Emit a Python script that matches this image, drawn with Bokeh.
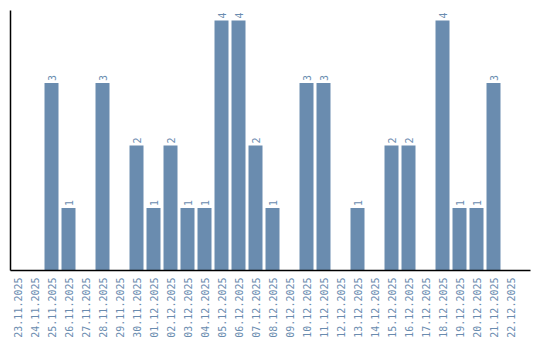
import math
from bokeh.plotting import figure
from bokeh.models import ColumnDataSource, Range1d, FixedTicker
from bokeh.core.properties import value
from bokeh.embed import file_html
from bokeh.resources import INLINE

dates = ["23.11.2025", "24.11.2025", "25.11.2025", "26.11.2025", "27.11.2025",
         "28.11.2025", "29.11.2025", "30.11.2025", "01.12.2025", "02.12.2025",
         "03.12.2025", "04.12.2025", "05.12.2025", "06.12.2025", "07.12.2025",
         "08.12.2025", "09.12.2025", "10.12.2025", "11.12.2025", "12.12.2025",
         "13.12.2025", "14.12.2025", "15.12.2025", "16.12.2025", "17.12.2025",
         "18.12.2025", "19.12.2025", "20.12.2025", "21.12.2025", "22.12.2025"]
counts = [0, 0, 3, 1, 0, 3, 0, 2, 1, 2, 1, 1, 4, 4, 2, 1, 0, 3, 3, 0,
          1, 0, 2, 2, 0, 4, 1, 1, 3, 0]

color = "#6a8caf"

pos = [i + 0.5 for i in range(len(dates))]
src = ColumnDataSource(dict(x=pos, y=counts))
nz = [i for i, c in enumerate(counts) if c > 0]
lab = ColumnDataSource(dict(x=[pos[i] for i in nz], y=[counts[i] for i in nz],
                            t=[str(counts[i]) for i in nz]))

p = figure(width=540, height=340, output_backend="svg", toolbar_location=None,
           x_range=Range1d(0.088, 30.676),
           y_range=Range1d(0, 4.16),
           min_border_left=10, min_border_right=10, min_border_top=10,
           min_border_bottom=70)
p.outline_line_color = None
p.xgrid.grid_line_color = None
p.ygrid.grid_line_color = None
p.background_fill_color = "white"

p.vbar(x="x", top="y", width=14 / 17, source=src, color=color, line_color=None)
p.text(x="x", y="y", text="t", source=lab, angle=math.pi / 2,
       text_align="left", text_baseline="middle", y_offset=-2,
       text_color=color, text_font=value("DejaVu Sans Mono"),
       text_font_size="10px")

xa = p.xaxis[0]
xa.ticker = FixedTicker(ticks=pos)
xa.major_label_overrides = {p_: d for p_, d in zip(pos, dates)}
xa.major_label_orientation = math.pi / 2
xa.major_label_text_color = color
xa.major_label_text_font = "DejaVu Sans Mono"
xa.major_label_text_font_size = "10px"
xa.major_label_standoff = 7
xa.major_tick_line_color = None
xa.minor_tick_line_color = None
xa.major_tick_out = 0
xa.minor_tick_out = 0
xa.axis_line_color = "black"
xa.axis_line_width = 1.5

ya = p.yaxis[0]
ya.ticker = FixedTicker(ticks=[])
ya.major_tick_line_color = None
ya.minor_tick_line_color = None
ya.major_tick_out = 0
ya.major_label_standoff = 0
ya.axis_line_color = "black"
ya.axis_line_width = 1.5

open("out.html", "w").write(file_html(p, INLINE))
